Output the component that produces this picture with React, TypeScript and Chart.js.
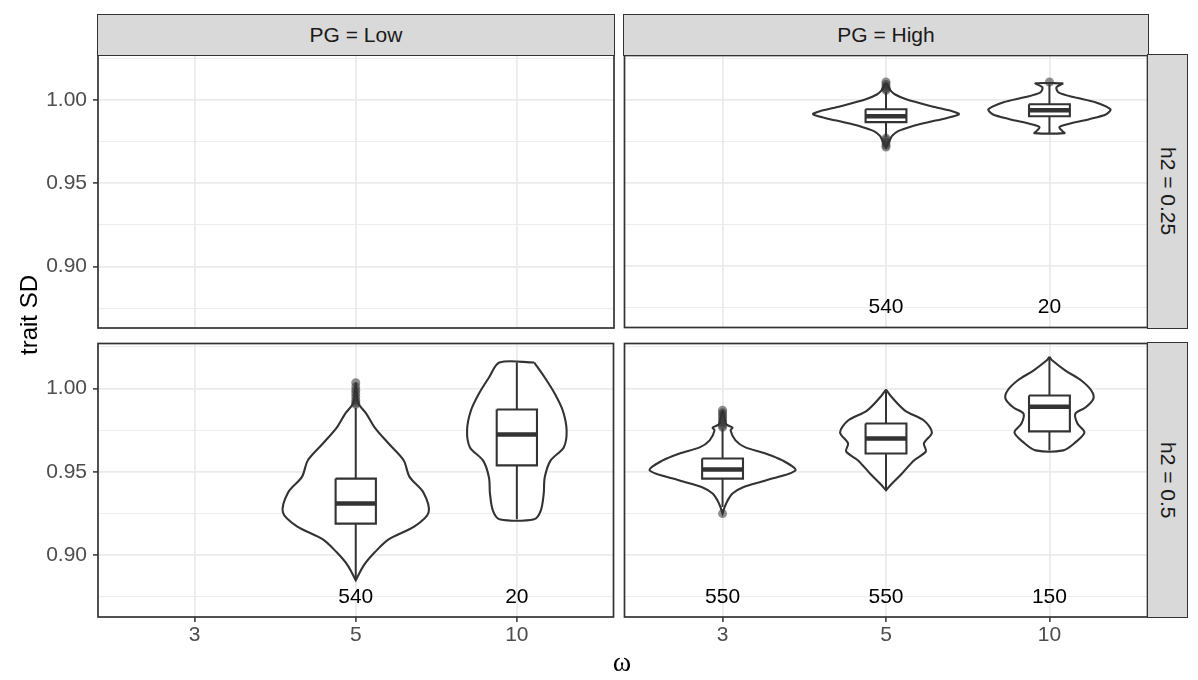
import React, { useEffect, useRef } from 'react';
import { Chart, registerables } from 'chart.js';

Chart.register(...registerables);

const FONT = "'Liberation Sans', Arial, Helvetica, sans-serif";

// ---------- labels ----------
const omegaLabels = ['3', '5', '10'];
const pgLabels = ['PG = Low', 'PG = High'];
const h2Labels = ['h2 = 0.25', 'h2 = 0.5'];
const yTickValues = [0.9, 0.95, 1.0];
const yTickLabels = ['0.90', '0.95', '1.00'];
const yMinorValues = [0.875, 0.925, 0.975, 1.025];
const yMin = 0.863;
const yMax = 1.027;
const countY = 0.875;
const boxHalf = 0.125;

// ---------- counts (per ω category) ----------
const countsLow25: (number | null)[] = [null, null, null];
const countsHigh25: (number | null)[] = [null, 540, 20];
const countsLow50: (number | null)[] = [null, 540, 20];
const countsHigh50: (number | null)[] = [550, 550, 150];

// ---------- PG = High, h2 = 0.25 ----------
const high25w5Levels = [1.0105, 1.0075, 1.0055, 1.0035, 1.0006, 0.9964, 0.9934, 0.9916, 0.9892, 0.9868, 0.9844, 0.9814, 0.9785, 0.975, 0.9715];
const high25w5Half = [0, 0.019, 0.031, 0.056, 0.123, 0.278, 0.405, 0.446, 0.368, 0.258, 0.16, 0.074, 0.037, 0.019, 0];
const high25w5Box = [0.978, 0.9868, 0.9904, 0.9946, 1.005];
const high25w5Out = [1.011, 1.0095, 1.008, 1.007, 1.006, 0.9772, 0.976, 0.9745, 0.973, 0.9718];

const high25w10Levels = [1.0102, 1.0078, 1.0048, 1.0018, 0.9988, 0.9946, 0.9916, 0.9886, 0.9856, 0.9838, 0.9814, 0.9802];
const high25w10Half = [0.085, 0.043, 0.055, 0.153, 0.281, 0.373, 0.348, 0.244, 0.11, 0.061, 0.079, 0.092];
const high25w10Box = [0.9802, 0.9904, 0.994, 0.9976, 1.0096];
const high25w10Out = [1.011];

// ---------- PG = Low, h2 = 0.5 ----------
const low50w5Levels = [1.0035, 0.998, 0.993, 0.99, 0.985, 0.9766, 0.967, 0.957, 0.947, 0.9377, 0.9257, 0.9174, 0.9096, 0.9018, 0.894, 0.885];
const low50w5Half = [0, 0.006, 0.01, 0.022, 0.065, 0.118, 0.204, 0.297, 0.334, 0.42, 0.452, 0.365, 0.204, 0.118, 0.05, 0];
const low50w5Box = [0.885, 0.919, 0.931, 0.946, 0.9885];
const low50w5Out = [1.0035, 1.001, 0.999, 0.997, 0.995, 0.993, 0.9915, 0.9905];

const low50w10Levels = [1.0156, 1.0066, 0.997, 0.9868, 0.9749, 0.9647, 0.9569, 0.9467, 0.9371, 0.9269, 0.9216];
const low50w10Half = [0.108, 0.173, 0.235, 0.285, 0.309, 0.291, 0.21, 0.173, 0.167, 0.149, 0.108];
const low50w10Box = [0.9216, 0.9539, 0.9725, 0.9874, 1.0156];
const low50w10Out: number[] = [];

// ---------- PG = High, h2 = 0.5 ----------
const high50w3Levels = [0.987, 0.982, 0.9784, 0.9766, 0.9749, 0.9689, 0.9647, 0.9611, 0.9569, 0.9509, 0.9449, 0.9407, 0.9371, 0.9329, 0.9287, 0.925];
const high50w3Half = [0, 0.012, 0.024, 0.061, 0.049, 0.079, 0.14, 0.263, 0.366, 0.446, 0.263, 0.122, 0.061, 0.031, 0.012, 0];
const high50w3Box = [0.929, 0.946, 0.9515, 0.958, 0.976];
const high50w3Out = [0.987, 0.9855, 0.984, 0.9825, 0.981, 0.9795, 0.978, 0.9768, 0.925];

const high50w5Levels = [0.9994, 0.9946, 0.9868, 0.9808, 0.9737, 0.9671, 0.9623, 0.9569, 0.9491, 0.9431, 0.939];
const high50w5Half = [0, 0.037, 0.116, 0.232, 0.281, 0.232, 0.244, 0.171, 0.098, 0.037, 0];
const high50w5Box = [0.939, 0.961, 0.97, 0.979, 0.9994];
const high50w5Out: number[] = [];

const high50w10Levels = [1.019, 1.0168, 1.0108, 1.0048, 0.9988, 0.994, 0.9886, 0.985, 0.979, 0.9737, 0.9677, 0.9629];
const high50w10Half = [0, 0.018, 0.098, 0.195, 0.256, 0.269, 0.22, 0.159, 0.171, 0.214, 0.159, 0.085];
const high50w10Box = [0.9629, 0.9743, 0.989, 0.9958, 1.019];
const high50w10Out: number[] = [];

type Group = { cat: number; levels: number[]; half: number[]; box: number[]; out: number[] };

const groupsLow25: Group[] = [];
const groupsHigh25: Group[] = [
  { cat: 2, levels: high25w5Levels, half: high25w5Half, box: high25w5Box, out: high25w5Out },
  { cat: 3, levels: high25w10Levels, half: high25w10Half, box: high25w10Box, out: high25w10Out },
];
const groupsLow50: Group[] = [
  { cat: 2, levels: low50w5Levels, half: low50w5Half, box: low50w5Box, out: low50w5Out },
  { cat: 3, levels: low50w10Levels, half: low50w10Half, box: low50w10Box, out: low50w10Out },
];
const groupsHigh50: Group[] = [
  { cat: 1, levels: high50w3Levels, half: high50w3Half, box: high50w3Box, out: high50w3Out },
  { cat: 2, levels: high50w5Levels, half: high50w5Half, box: high50w5Box, out: high50w5Out },
  { cat: 3, levels: high50w10Levels, half: high50w10Half, box: high50w10Box, out: high50w10Out },
];

const INK = '#333333';

function violinPoints(g: Group) {
  const right = g.levels.map((y, i) => ({ x: g.cat + g.half[i], y }));
  const left = g.levels.map((y, i) => ({ x: g.cat - g.half[i], y })).reverse();
  return [...right, ...left, right[0]];
}

function groupDatasets(g: Group): any[] {
  const [lo, q1, med, q3, hi] = g.box;
  const c = g.cat;
  const bw = boxHalf;
  return [
    {
      data: violinPoints(g), borderColor: INK, borderWidth: 2.1, backgroundColor: '#ffffff',
      fill: 'shape', tension: 0.3, pointRadius: 0, order: 5,
    },
    {
      data: [{ x: c, y: lo }, { x: c, y: hi }], borderColor: INK, borderWidth: 2,
      pointRadius: 0, fill: false, tension: 0, order: 4,
    },
    {
      data: [{ x: c - bw, y: q3 }, { x: c + bw, y: q3 }, { x: c + bw, y: q1 }, { x: c - bw, y: q1 }, { x: c - bw, y: q3 }],
      borderColor: INK, borderWidth: 2.1, backgroundColor: '#ffffff', fill: 'shape', tension: 0,
      borderJoinStyle: 'miter', pointRadius: 0, order: 3,
    },
    {
      data: [{ x: c - bw, y: med }, { x: c + bw, y: med }], borderColor: INK, borderWidth: 4.5,
      pointRadius: 0, fill: false, tension: 0, borderCapStyle: 'butt', order: 2,
    },
    {
      data: g.out.map((y) => ({ x: c, y })), showLine: false, pointRadius: 4.5,
      pointBackgroundColor: 'rgba(51,51,51,0.55)', pointBorderWidth: 0, order: 1,
    },
  ];
}

const isMajor = (v: number) => yTickValues.some((t) => Math.abs(t - v) < 1e-6);

const borderPlugin = {
  id: 'panelBorder',
  afterDatasetsDraw(chart: any) {
    const { ctx, chartArea: a } = chart;
    ctx.save();
    ctx.strokeStyle = INK;
    ctx.lineWidth = 1.7;
    ctx.strokeRect(a.left, a.top, a.right - a.left, a.bottom - a.top);
    ctx.restore();
  },
};

function countPlugin(counts: (number | null)[]) {
  return {
    id: 'counts',
    afterDatasetsDraw(chart: any) {
      const { ctx, scales } = chart;
      ctx.save();
      ctx.font = `21px ${FONT}`;
      ctx.fillStyle = '#000000';
      ctx.textAlign = 'center';
      ctx.textBaseline = 'middle';
      counts.forEach((n, i) => {
        if (n == null) return;
        ctx.fillText(String(n), scales.x.getPixelForValue(i + 1), scales.y.getPixelForValue(countY));
      });
      ctx.restore();
    },
  };
}

function makeConfig(groups: Group[], counts: (number | null)[], showX: boolean, showY: boolean, padding: any) {
  const datasets = groups.flatMap(groupDatasets);
  return {
    type: 'line',
    data: { datasets },
    options: {
      animation: false,
      responsive: false,
      devicePixelRatio: 1,
      layout: { padding },
      plugins: { legend: { display: false }, tooltip: { enabled: false } },
      events: [],
      scales: {
        x: {
          type: 'linear', min: 0.4, max: 3.6,
          afterBuildTicks: (s: any) => { s.ticks = [1, 2, 3].map((v) => ({ value: v })); },
          afterFit: (s: any) => {
            s.height = showX ? 63 : 0;
            s.paddingLeft = 0; s.paddingRight = 0; s.paddingTop = 0; s.paddingBottom = 0;
          },
          ticks: {
            display: showX, autoSkip: false, maxRotation: 0, padding: 1, color: '#4D4D4D',
            font: { size: 21, family: FONT },
            callback: (v: number) => omegaLabels[Math.round(v) - 1] ?? '',
          },
          grid: { color: '#EBEBEB', lineWidth: 1.8, drawTicks: showX, tickLength: 5, tickColor: INK, tickWidth: 1.5 },
          border: { display: false },
        },
        y: {
          type: 'linear', min: yMin, max: yMax,
          afterBuildTicks: (s: any) => {
            s.ticks = [...yTickValues, ...yMinorValues].sort((a, b) => a - b).map((v) => ({ value: v }));
          },
          afterFit: (s: any) => {
            s.width = showY ? 98 : 0;
            s.paddingLeft = 0; s.paddingRight = 0; s.paddingTop = 0; s.paddingBottom = 0;
          },
          ticks: {
            display: showY, autoSkip: false, padding: 6, color: '#4D4D4D',
            font: { size: 21, family: FONT },
            callback: (v: number) => {
              const i = yTickValues.findIndex((t) => Math.abs(t - v) < 1e-6);
              return i >= 0 ? yTickLabels[i] : '';
            },
          },
          grid: {
            color: '#EBEBEB',
            lineWidth: (ctx: any) => (ctx.tick && isMajor(ctx.tick.value) ? 1.8 : 0.9),
            drawTicks: showY, tickLength: 5,
            tickColor: (ctx: any) => (ctx.tick && isMajor(ctx.tick.value) ? INK : 'rgba(0,0,0,0)'),
            tickWidth: 1.5,
          },
          border: { display: false },
        },
      },
    },
    plugins: [borderPlugin, countPlugin(counts)],
  };
}

function Panel(props: { left: number; top: number; width: number; height: number; make: () => any }) {
  const ref = useRef<HTMLCanvasElement>(null);
  useEffect(() => {
    const chart = new Chart(ref.current as HTMLCanvasElement, props.make());
    return () => chart.destroy();
  }, []);
  return (
    <canvas
      ref={ref}
      width={props.width}
      height={props.height}
      style={{ position: 'absolute', left: props.left, top: props.top, width: props.width, height: props.height }}
    />
  );
}

const stripBase: React.CSSProperties = {
  position: 'absolute', boxSizing: 'border-box', background: '#D9D9D9', border: `1.6px solid ${INK}`,
  display: 'flex', alignItems: 'center', justifyContent: 'center', fontFamily: FONT, fontSize: 21, color: '#1A1A1A',
};

export default function App() {
  return (
    <div style={{ position: 'absolute', left: 0, top: 0, width: 1198, height: 680, background: '#ffffff', overflow: 'hidden' }}>
      <Panel left={0} top={51} width={618} height={281}
        make={() => makeConfig(groupsLow25, countsLow25, false, true, { top: 4, right: 4, bottom: 4, left: 0 })} />
      <Panel left={620} top={51} width={532} height={281}
        make={() => makeConfig(groupsHigh25, countsHigh25, false, false, { top: 4, right: 4, bottom: 4, left: 4 })} />
      <Panel left={0} top={339} width={618} height={341}
        make={() => makeConfig(groupsLow50, countsLow50, true, true, { top: 4, right: 4, bottom: 0, left: 0 })} />
      <Panel left={620} top={339} width={532} height={341}
        make={() => makeConfig(groupsHigh50, countsHigh50, true, false, { top: 4, right: 4, bottom: 0, left: 4 })} />

      <div style={{ ...stripBase, left: 97, top: 14, width: 518, height: 42 }}>{pgLabels[0]}</div>
      <div style={{ ...stripBase, left: 623, top: 14, width: 526, height: 42 }}>{pgLabels[1]}</div>
      <div style={{ ...stripBase, left: 1147, top: 54, width: 41, height: 275, writingMode: 'vertical-rl' }}>{h2Labels[0]}</div>
      <div style={{ ...stripBase, left: 1147, top: 342, width: 41, height: 276, writingMode: 'vertical-rl' }}>{h2Labels[1]}</div>

      <div style={{
        position: 'absolute', left: 14, top: 255, width: 30, height: 120, display: 'flex', alignItems: 'center',
        justifyContent: 'center', writingMode: 'vertical-rl', transform: 'rotate(180deg)', fontFamily: FONT,
        fontSize: 24, color: '#000',
      }}>trait SD</div>
      <div style={{
        position: 'absolute', left: 592, top: 646, width: 60, height: 32, display: 'flex', alignItems: 'center',
        justifyContent: 'center', fontFamily: "'Liberation Serif', 'DejaVu Serif', serif", fontSize: 28, color: '#000',
      }}>ω</div>
    </div>
  );
}
